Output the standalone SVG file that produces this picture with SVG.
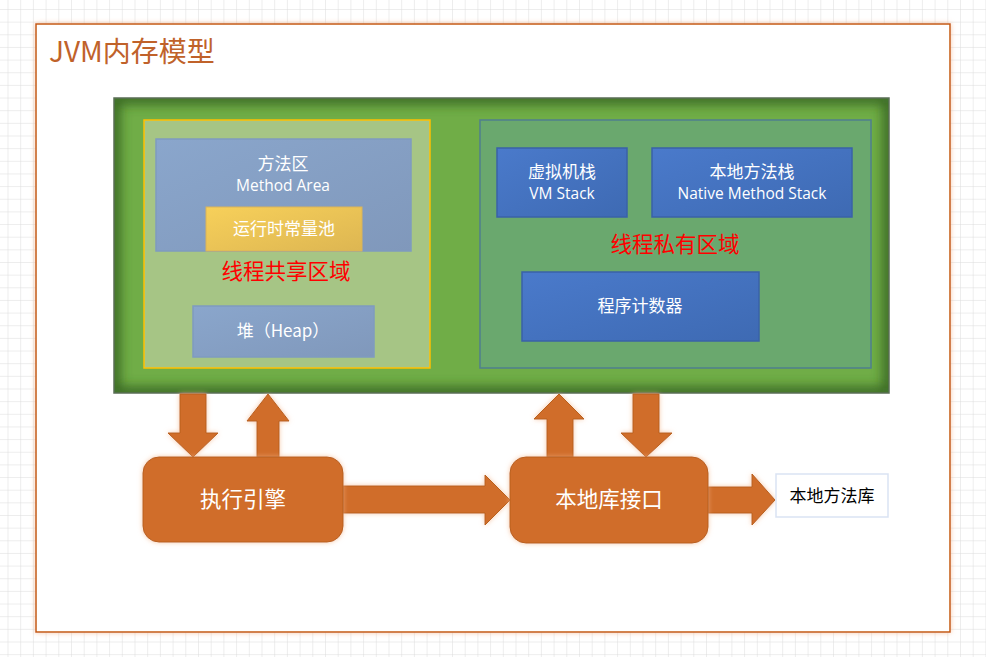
<svg xmlns="http://www.w3.org/2000/svg" width="986" height="657" viewBox="0 0 986 657">
<defs>
<pattern id="grid" x="7.5" y="9" width="12.7" height="12.65" patternUnits="userSpaceOnUse">
<path d="M0 0H12.7M0 0V12.65" fill="none" stroke="#dcdcdc" stroke-width="1"/>
</pattern>
<filter id="soft" x="-20%" y="-20%" width="140%" height="140%">
<feGaussianBlur in="SourceAlpha" stdDeviation="2.5" result="b"/>
<feFlood flood-color="#F4B183" flood-opacity="0.7"/>
<feComposite operator="in" in2="b"/>
<feMerge><feMergeNode/><feMergeNode in="SourceGraphic"/></feMerge>
</filter>
<filter id="blur6"><feGaussianBlur stdDeviation="6"/></filter>
<clipPath id="gclip"><rect x="114" y="98" width="775" height="295"/></clipPath>
<linearGradient id="blueG" x1="0" y1="0" x2="1" y2="1">
<stop offset="0" stop-color="#4A7ACB"/><stop offset="1" stop-color="#3E6AB3"/>
</linearGradient>
<linearGradient id="greyG" x1="0" y1="0" x2="1" y2="1">
<stop offset="0" stop-color="#8AA6CC"/><stop offset="1" stop-color="#8098BB"/>
</linearGradient>
<linearGradient id="yelG" x1="0" y1="0" x2="1" y2="1">
<stop offset="0" stop-color="#F7D05A"/><stop offset="1" stop-color="#DDB652"/>
</linearGradient>
<style>
.w{fill:#ffffff;font-family:"Noto Sans CJK SC","Open Sans",sans-serif;font-size:17px;text-anchor:middle}
.en{font-family:"Open Sans",sans-serif;font-size:15.5px}
.big{fill:#ffffff;font-family:"Noto Sans CJK SC",sans-serif;font-size:21.5px;text-anchor:middle}
.red{fill:#FF0000;font-family:"Noto Sans CJK SC",sans-serif;font-size:21.5px;text-anchor:middle}
.or{fill:#D06D2A;stroke:#B8601F;stroke-width:1}
.bl{fill:url(#blueG);stroke:#3A62A8;stroke-width:1.5}
.gr{fill:url(#greyG);stroke:#7F9BC0;stroke-width:1.5}
</style>
</defs>
<rect width="986" height="657" fill="#ffffff"/>
<rect width="986" height="657" fill="url(#grid)"/>
<g id="frame">
<rect x="36" y="24" width="914" height="608" fill="#ffffff" stroke="#C55A11" stroke-width="1.5" filter="url(#soft)"/>
<text x="49" y="62" font-family="Noto Sans CJK SC, sans-serif" font-size="28" fill="#C0622A">JVM内存模型</text>
</g>
<g id="jvm-area">
<rect x="114" y="98" width="775" height="295" fill="#70AD47"/>
<g clip-path="url(#gclip)">
<rect x="114" y="98" width="775" height="295" fill="none" stroke="#2E5A1A" stroke-width="12" filter="url(#blur6)" opacity="0.85"/>
</g>
<rect x="114" y="98" width="775" height="295" fill="none" stroke="#5A6E55" stroke-width="1.5"/>
</g>
<g id="shared">
<rect x="144" y="120" width="286" height="248" fill="#A6C585" stroke="#FFC000" stroke-width="1.5"/>
<text class="red" x="286" y="279">线程共享区域</text>
</g>
<g id="method-area">
<rect x="156" y="139" width="255" height="112" class="gr"/>
<text class="w" x="283" y="170">方法区</text>
<text class="w en" x="283" y="191">Method Area</text>
</g>
<g id="constant-pool">
<rect x="206" y="207" width="156" height="44" fill="url(#yelG)" stroke="#D9B45A" stroke-width="1"/>
<text class="w" x="284" y="235">运行时常量池</text>
</g>
<g id="heap">
<rect x="193" y="306" width="181" height="51" class="gr"/>
<text class="w" x="283" y="337">堆（Heap）</text>
</g>
<g id="private">
<rect x="480" y="120" width="391" height="248" fill="#6AA86E" stroke="#4F7F8E" stroke-width="1.5"/>
<text class="red" x="675" y="252">线程私有区域</text>
</g>
<g id="vm-stack">
<rect x="497" y="148" width="130" height="69" class="bl"/>
<text class="w" x="562" y="178">虚拟机栈</text>
<text class="w en" x="562" y="199">VM Stack</text>
</g>
<g id="native-stack">
<rect x="652" y="148" width="200" height="69" class="bl"/>
<text class="w" x="752" y="178">本地方法栈</text>
<text class="w en" x="752" y="199">Native Method Stack</text>
</g>
<g id="pc">
<rect x="522" y="272" width="237" height="69" class="bl"/>
<text class="w" x="640" y="312">程序计数器</text>
</g>
<g id="connectors">
<path class="or" filter="url(#soft)" d="M180 394H206V433H218L193 457L168 433H180Z"/>
<path class="or" filter="url(#soft)" d="M268 394L289 421H279V457H257V421H247Z"/>
<path class="or" filter="url(#soft)" d="M343 486H485V475L510 500L485 525V513H343Z"/>
<path class="or" filter="url(#soft)" d="M559 394L584 419H573V457H547V419H534Z"/>
<path class="or" filter="url(#soft)" d="M633 394H659V433H672L646 457L621 433H633Z"/>
<path class="or" filter="url(#soft)" d="M708 487H752V474L775 500L752 525V513H708Z"/>
</g>
<g id="exec-engine">
<rect x="143" y="457" width="200" height="85" rx="16" class="or" filter="url(#soft)"/>
<text class="big" x="243" y="507">执行引擎</text>
</g>
<g id="native-interface">
<rect x="510" y="457" width="198" height="86" rx="16" class="or" filter="url(#soft)"/>
<text class="big" x="609" y="507">本地库接口</text>
</g>
<g id="native-lib">
<rect x="776" y="474" width="112" height="43" fill="#ffffff" stroke="#DAE3F3" stroke-width="1.5"/>
<text x="832" y="502" font-family="Noto Sans CJK SC, sans-serif" font-size="17" fill="#000000" text-anchor="middle">本地方法库</text>
</g>
</svg>
